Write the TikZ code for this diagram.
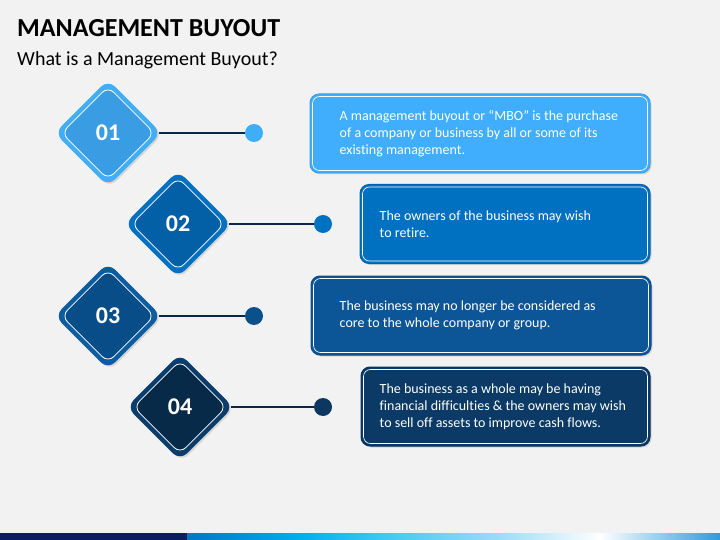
\documentclass[tikz,border=0pt]{standalone}
\usepackage{fontspec}
\setmainfont{Carlito}[Ligatures=NoCommon]
\usetikzlibrary{shapes.geometric}
\usetikzlibrary{positioning}
\usetikzlibrary{shadows}

\definecolor{bgcol}{HTML}{F2F2F2}
\definecolor{linecol}{HTML}{0B2747}
% diamonds: outer band, inner face, dot, box fill, box edge
\definecolor{outcol1}{HTML}{41AEF6}
\definecolor{incol1}{HTML}{3A9DE4}
\definecolor{dotcol1}{HTML}{3FAEF8}
\definecolor{boxcol1}{HTML}{40AEFC}
\definecolor{edgecol1}{HTML}{3A9FE6}
\definecolor{outcol2}{HTML}{0070C0}
\definecolor{incol2}{HTML}{0460A6}
\definecolor{dotcol2}{HTML}{0070C0}
\definecolor{boxcol2}{HTML}{0070C0}
\definecolor{edgecol2}{HTML}{0763A9}
\definecolor{outcol3}{HTML}{0D5CA0}
\definecolor{incol3}{HTML}{084D88}
\definecolor{dotcol3}{HTML}{0B508B}
\definecolor{boxcol3}{HTML}{0C5596}
\definecolor{edgecol3}{HTML}{0A4D88}
\definecolor{outcol4}{HTML}{0A3D6B}
\definecolor{incol4}{HTML}{062A48}
\definecolor{dotcol4}{HTML}{0B3760}
\definecolor{boxcol4}{HTML}{0A3A65}
\definecolor{edgecol4}{HTML}{08345C}
% bottom strip
\definecolor{navy}{HTML}{0B1F5E}
\definecolor{stripA}{HTML}{0076C6}
\definecolor{stripB}{HTML}{00AEEF}
\definecolor{stripC}{HTML}{3CC8F2}
\definecolor{stripD}{HTML}{9EDCF6}
\definecolor{stripE}{HTML}{FFFFFF}
\definecolor{stripF}{HTML}{2E9ADB}

\tikzset{
	outerdia/.style={diamond, minimum size=107pt, inner sep=0pt, rounded corners=10pt,
		drop shadow={shadow xshift=1.5pt, shadow yshift=-1.5pt, opacity=0.25}},
	innerdia/.style={diamond, minimum size=93pt, inner sep=0pt, rounded corners=8pt,
		draw=white, line width=0.8pt, text=white, font=\bfseries\fontsize{24}{24}\selectfont},
	dot/.style={circle, minimum size=18pt, inner sep=0pt},
	connector/.style={draw=linecol, line width=2pt},
	infobox/.style={rectangle, rounded corners=9pt, minimum height=79pt, line width=1pt,
		drop shadow={shadow xshift=1.5pt, shadow yshift=-1.5pt, opacity=0.25}},
	infotext/.style={align=left, text=white, inner sep=0pt, font=\fontsize{14}{17}\selectfont}
}

\begin{document}
\begin{tikzpicture}[x=1pt, y=1pt]
	\useasboundingbox (0,0) rectangle (720,-540);
	\fill[bgcol] (0,0) rectangle (720,-540);
	
	% Title
	\node[anchor=base west, inner sep=0pt, font=\bfseries\fontsize{26}{30}\selectfont] (title) at (17,-37) {MANAGEMENT BUYOUT};
	\node[anchor=base west, inner sep=0pt, font=\fontsize{20}{24}\selectfont] (subtitle) at (17,-66) {What is a Management Buyout?};
	
	% Diamonds, connectors and dots
	\foreach \i/\x/\y/\dx in {1/108/133/254, 2/178/224/323, 3/108/316/254, 4/180/407/323} {
		\node[dot, fill=dotcol\i] (dot\i) at (\dx,-\y) {};
		\node[outerdia, fill=outcol\i] (dia\i) at (\x,-\y) {};
		\draw[connector] ([xshift=-3pt]dia\i.east) -- (dot\i);
		\node[innerdia, fill=incol\i] (num\i) at (dia\i) {0\i};
	}
	
	% Text boxes
	\foreach \i/\cx/\cy/\w/\pad/\txt in {
		1/480/133.5/340/30/{A management buyout or “MBO” is the purchase\\of a company or business by all or some of its\\existing management.},
		2/505/224/290/20/{The owners of the business may wish\\to retire.},
		3/481/315.5/340/29/{The business may no longer be considered as\\core to the whole company or group.},
		4/505.5/406.5/289/19/{The business as a whole may be having\\financial difficulties \& the owners may wish\\to sell off assets to improve cash flows.}} {
		\node[infobox, fill=boxcol\i, draw=edgecol\i, minimum width=\w pt] (box\i) at (\cx,-\cy) {};
		\draw[white, line width=0.6pt, rounded corners=7pt]
		([shift={(3pt,3pt)}]box\i.south west) rectangle ([shift={(-3pt,-3pt)}]box\i.north east);
		\node[infotext, anchor=west, right=\pad pt of box\i.west] (txt\i) {\txt};
	}
	
	% Bottom strip
	\fill[navy] (0,-533) rectangle (187,-540);
	\shade[left color=stripA, right color=stripB] (187,-533) rectangle (300,-540);
	\shade[left color=stripB, right color=stripC] (300,-533) rectangle (380,-540);
	\shade[left color=stripC, right color=stripD] (380,-533) rectangle (500,-540);
	\shade[left color=stripD, right color=stripE] (500,-533) rectangle (600,-540);
	\shade[left color=stripE, right color=stripF] (600,-533) rectangle (720,-540);
	
\end{tikzpicture}
\end{document}
